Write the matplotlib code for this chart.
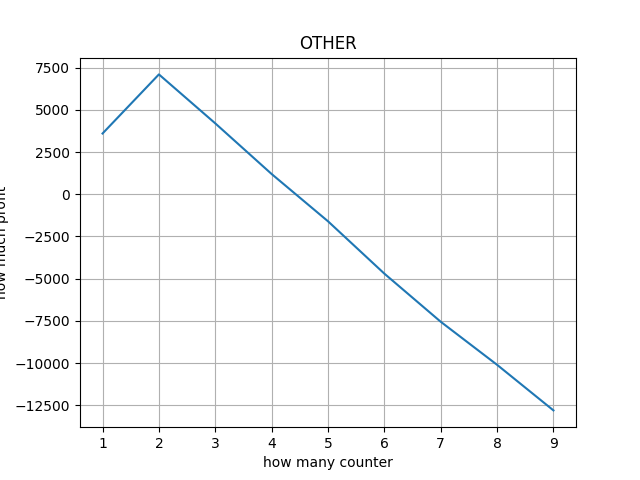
import matplotlib
matplotlib.use('Agg')
import matplotlib.pyplot as plt

counters = [1, 2, 3, 4, 5, 6, 7, 8, 9]
profit = [3600, 7100, 4200, 1200, -1600, -4700, -7550, -10100, -12800]

fig, ax = plt.subplots(figsize=(6.4, 4.8), dpi=100)
ax.plot(counters, profit)
ax.set_title('OTHER')
ax.set_xlabel('how many counter')
ax.set_ylabel('how much profit')
ax.grid(True)
fig.savefig('out.png')
